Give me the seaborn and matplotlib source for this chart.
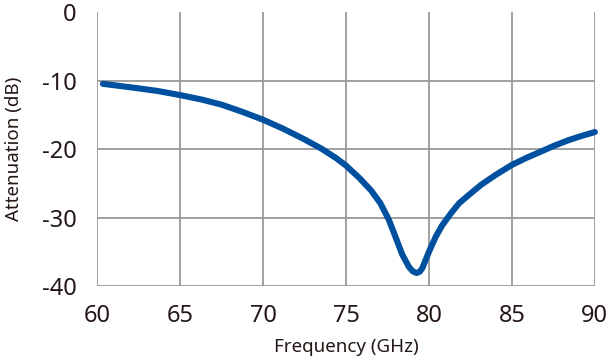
import matplotlib
matplotlib.use("Agg")
import matplotlib.pyplot as plt
import seaborn as sns
import pandas as pd

# values
freq_ghz = [60.35, 62.45, 63.65, 65.0, 66.3, 67.5, 68.7, 70.0, 71.2, 72.4,
            73.5, 74.4, 75.0, 75.8, 76.5, 77.07, 77.58, 77.98, 78.39, 78.79,
            79.02, 79.25, 79.45, 79.6, 80.0, 80.41, 80.81, 81.32, 81.82, 82.5,
            83.15, 84.0, 85.0, 85.85, 86.8, 87.55, 88.4, 89.15, 90.0]
atten_db = [-10.45, -11.1, -11.5, -12.1, -12.75, -13.5, -14.5, -15.7, -17.0, -18.45,
            -19.9, -21.3, -22.4, -24.2, -26.0, -27.9, -30.3, -32.8, -35.4, -37.2,
            -37.85, -38.1, -37.9, -37.4, -35.0, -32.8, -31.1, -29.4, -27.9, -26.5,
            -25.2, -23.8, -22.3, -21.3, -20.3, -19.5, -18.7, -18.1, -17.5]
x_ticks = [60, 65, 70, 75, 80, 85, 90]
y_ticks = [-40, -30, -20, -10, 0]

df = pd.DataFrame({"Frequency (GHz)": freq_ghz, "Attenuation (dB)": atten_db})

sns.set_style("white")
plt.rcParams["font.family"] = ["Noto Sans", "DejaVu Sans"]
plt.rcParams["axes.unicode_minus"] = False

grid_col = "#999999"
text_col = "#231815"

fig = plt.figure(figsize=(6.07, 3.62), dpi=100)
ax = fig.add_axes([0.160, 0.210, 0.820, 0.756])

sns.lineplot(data=df, x="Frequency (GHz)", y="Attenuation (dB)", ax=ax,
             color="#0050a0", linewidth=4.4, sort=False, clip_on=False,
             solid_capstyle="round", solid_joinstyle="round", zorder=3)

ax.set_xlim(60, 90)
ax.set_ylim(-40, 0)
ax.set_xticks(x_ticks)
ax.set_yticks(y_ticks)
ax.grid(True, color=grid_col, linewidth=1.3)
for s in ax.spines.values():
    s.set_visible(False)
ax.tick_params(axis="both", length=5, width=1.3, color=grid_col,
               labelsize=17, labelcolor=text_col)
ax.tick_params(axis="x", pad=8)
ax.tick_params(axis="y", pad=10)

ax.set_xlabel("Frequency (GHz)", fontsize=13.5, color=text_col, labelpad=7)
ax.set_ylabel("Attenuation (dB)", fontsize=13.5, color=text_col, labelpad=13)

fig.canvas.draw()
# no horizontal gridline along the 0 dB edge in the original
for tick in ax.yaxis.get_major_ticks():
    if abs(tick.get_loc()) < 1e-9:
        tick.gridline.set_visible(False)

fig.savefig("out.png", dpi=100)
